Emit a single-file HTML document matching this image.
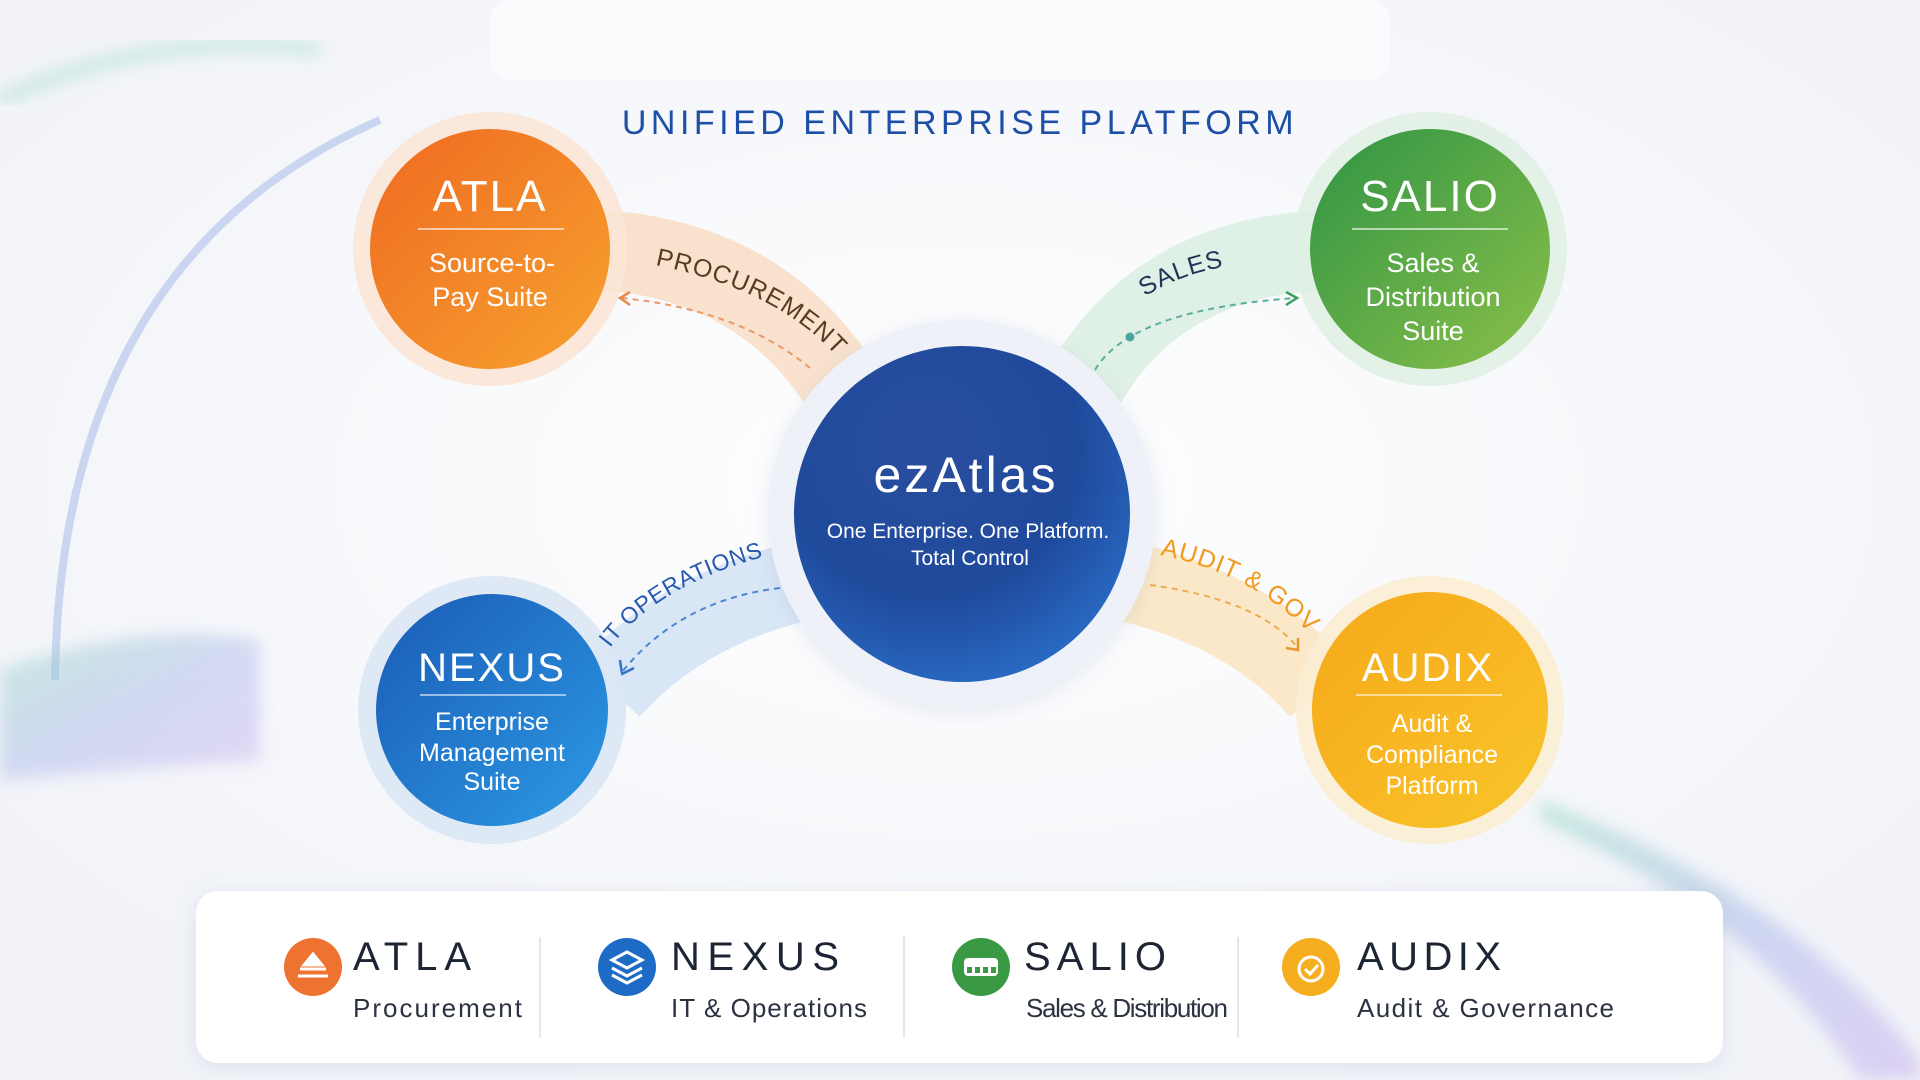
<!DOCTYPE html>
<html><head><meta charset="utf-8"><style>
html,body{margin:0;padding:0}
body{width:1920px;height:1080px;overflow:hidden;background:#f6f7fb;font-family:"Liberation Sans",sans-serif;position:relative}
svg{position:absolute;left:0;top:0}
</style></head><body>
<svg width="1920" height="1080" viewBox="0 0 1920 1080" xmlns="http://www.w3.org/2000/svg">
<defs>
<radialGradient id="bg" cx="50%" cy="45%" r="60%"><stop offset="0" stop-color="#ffffff"/><stop offset="1" stop-color="#f1f3f8"/></radialGradient>
<linearGradient id="gO" x1="0" y1="0" x2="1" y2="1"><stop offset="0" stop-color="#ef6a22"/><stop offset="1" stop-color="#f7a22e"/></linearGradient>
<linearGradient id="gG" x1="0" y1="0" x2="1" y2="1"><stop offset="0" stop-color="#2e9444"/><stop offset="1" stop-color="#8cc04a"/></linearGradient>
<linearGradient id="gB" x1="0" y1="0" x2="1" y2="1"><stop offset="0" stop-color="#1b5bb5"/><stop offset="1" stop-color="#2c9ae6"/></linearGradient>
<linearGradient id="gY" x1="0" y1="0" x2="1" y2="1"><stop offset="0" stop-color="#f6a81a"/><stop offset="1" stop-color="#f9c52a"/></linearGradient>
<radialGradient id="gC" cx="40%" cy="30%" r="75%"><stop offset="0" stop-color="#2a4d9e"/><stop offset="0.6" stop-color="#1f4a9c"/><stop offset="1" stop-color="#2a6cc6"/></radialGradient>
<linearGradient id="sw" x1="0" y1="0" x2="1" y2="1"><stop offset="0" stop-color="#8fd8c0"/><stop offset="0.5" stop-color="#a9b8ea"/><stop offset="1" stop-color="#c8b0f0"/></linearGradient>
<filter id="bl"><feGaussianBlur stdDeviation="8"/></filter>
<filter id="sh"><feDropShadow dx="0" dy="4" stdDeviation="10" flood-color="#8090b0" flood-opacity="0.18"/></filter>
<path id="pP" d="M655,265 Q780,290 840,360"/>
<path id="pS" d="M1140,300 Q1190,265 1270,262"/>
<path id="pI" d="M610,648 Q660,580 790,550"/>
<path id="pA" d="M1160,555 Q1260,575 1320,645"/>
</defs>
<rect width="1920" height="1080" fill="url(#bg)"/>
<rect x="490" y="0" width="900" height="80" rx="20" fill="#fafbfd"/>
<path d="M0,100 Q150,30 320,50" stroke="#9edcc4" stroke-width="10" fill="none" opacity="0.6" filter="url(#bl)"/>
<path d="M380,120 Q60,260 55,680" stroke="#b8c8ec" stroke-width="8" fill="none" opacity="0.7"/>
<path d="M0,670 Q140,620 260,640 L260,760 Q120,770 0,780 Z" fill="url(#sw)" opacity="0.45" filter="url(#bl)"/>
<path d="M1540,800 Q1800,900 1920,1060 L1920,1080 L1860,1080 Q1760,920 1540,820 Z" fill="url(#sw)" opacity="0.5" filter="url(#bl)"/>
<text x="960" y="134" text-anchor="middle" font-size="34" fill="#1e4fa6" letter-spacing="4.5">UNIFIED ENTERPRISE PLATFORM</text>
<path d="M600,250 Q760,260 840,385" stroke="#f8d9bd" stroke-width="80" fill="none" opacity="0.75"/>
<path d="M1330,250 Q1160,255 1085,385" stroke="#d8eee0" stroke-width="80" fill="none" opacity="0.8"/>
<path d="M610,690 Q690,600 830,575" stroke="#d2e2f5" stroke-width="80" fill="none" opacity="0.85"/>
<path d="M1320,690 Q1240,600 1095,575" stroke="#fae3bc" stroke-width="80" fill="none" opacity="0.8"/>
<path d="M810,368 Q740,310 622,298" stroke="#e99a66" stroke-width="2" stroke-dasharray="6 5" fill="none"/>
<path d="M630,292 L620,298 L630,305" stroke="#e98a4a" stroke-width="2.5" fill="none"/>
<path d="M1095,370 Q1130,310 1295,298" stroke="#5aae9e" stroke-width="2" stroke-dasharray="6 5" fill="none"/>
<circle cx="1130" cy="337" r="4.5" fill="#4aa6a0"/>
<path d="M1286,292 L1297,298 L1286,305" stroke="#3aa060" stroke-width="2.5" fill="none"/>
<path d="M780,588 Q680,600 622,672" stroke="#4b86d0" stroke-width="2" stroke-dasharray="6 5" fill="none"/>
<path d="M620,660 L622,674 L634,668" stroke="#2e74cc" stroke-width="2.5" fill="none"/>
<path d="M1150,585 Q1260,600 1298,648" stroke="#eeab55" stroke-width="2" stroke-dasharray="6 5" fill="none"/>
<path d="M1286,648 L1298,650 L1298,638" stroke="#e8962e" stroke-width="2.5" fill="none"/>
<circle cx="490" cy="249" r="137" fill="#fbe6d6" opacity="0.9"/>
<circle cx="1430" cy="249" r="137" fill="#e1f0e4" opacity="0.9"/>
<circle cx="492" cy="710" r="134" fill="#dbe7f5" opacity="0.9"/>
<circle cx="1430" cy="710" r="134" fill="#fbedd3" opacity="0.9"/>
<circle cx="962" cy="514" r="194" fill="#eef1f7" filter="url(#sh)"/>
<text font-size="25" fill="#5a3a22" letter-spacing="1"><textPath href="#pP" startOffset="0">PROCUREMENT</textPath></text>
<text font-size="25" fill="#1f3556" letter-spacing="1"><textPath href="#pS" startOffset="6">SALES</textPath></text>
<text font-size="23" fill="#2659b0" letter-spacing="0.5"><textPath href="#pI" startOffset="0">IT OPERATIONS</textPath></text>
<text font-size="25" fill="#f0991c" letter-spacing="1"><textPath href="#pA" startOffset="0">AUDIT &amp; GOV</textPath></text>
<circle cx="490" cy="249" r="120" fill="url(#gO)"/>
<circle cx="1430" cy="249" r="120" fill="url(#gG)"/>
<circle cx="492" cy="710" r="116" fill="url(#gB)"/>
<circle cx="1430" cy="710" r="118" fill="url(#gY)"/>
<circle cx="962" cy="514" r="168" fill="url(#gC)"/>
<g fill="#fff" text-anchor="middle">
<text x="490" y="211" font-size="44" letter-spacing="2">ATLA</text>
<rect x="418" y="228" width="146" height="2" fill="#fff" opacity="0.6"/>
<text x="492" y="272" font-size="27">Source-to-</text>
<text x="490" y="306" font-size="27">Pay Suite</text>
<text x="1430" y="211" font-size="44" letter-spacing="2">SALIO</text>
<rect x="1352" y="228" width="156" height="2" fill="#fff" opacity="0.6"/>
<text x="1433" y="272" font-size="27">Sales &amp;</text>
<text x="1433" y="306" font-size="27">Distribution</text>
<text x="1433" y="340" font-size="27">Suite</text>
<text x="492" y="681" font-size="40" letter-spacing="2">NEXUS</text>
<rect x="420" y="694" width="146" height="2" fill="#fff" opacity="0.55"/>
<text x="492" y="730" font-size="25">Enterprise</text>
<text x="492" y="761" font-size="25">Management</text>
<text x="492" y="790" font-size="25">Suite</text>
<text x="1428" y="681" font-size="40" letter-spacing="2">AUDIX</text>
<rect x="1356" y="694" width="146" height="2" fill="#fff" opacity="0.55"/>
<text x="1432" y="732" font-size="25">Audit &amp;</text>
<text x="1432" y="763" font-size="25">Compliance</text>
<text x="1432" y="794" font-size="25">Platform</text>
<text x="966" y="492" font-size="50" letter-spacing="3">ezAtlas</text>
<text x="968" y="538" font-size="21">One Enterprise. One Platform.</text>
<text x="970" y="565" font-size="21">Total Control</text>
</g>
<rect x="196" y="891" width="1527" height="172" rx="22" fill="#ffffff" filter="url(#sh)"/>
<g stroke="#e4e6ec" stroke-width="2"><line x1="540" y1="937" x2="540" y2="1038"/><line x1="904" y1="937" x2="904" y2="1038"/><line x1="1238" y1="937" x2="1238" y2="1038"/></g>
<circle cx="313" cy="967" r="29" fill="#ee7230"/>
<path d="M298,976 h30 M300,969 h26 M313,954 l9,11 h-18 z" stroke="#fff" stroke-width="3" fill="#fff"/>
<circle cx="627" cy="967" r="29" fill="#1e6bc6"/>
<path d="M612,960 l15,-8 l15,8 l-15,8 z M612,968 l15,8 l15,-8 M612,975 l15,8 l15,-8" stroke="#fff" stroke-width="3" fill="none"/>
<circle cx="981" cy="967" r="29" fill="#3a9a44"/>
<rect x="964" y="958" width="34" height="18" rx="4" fill="#fff"/>
<g fill="#3a9a44"><rect x="967" y="967" width="5" height="6"/><rect x="975" y="967" width="5" height="6"/><rect x="983" y="967" width="5" height="6"/><rect x="991" y="967" width="5" height="6"/></g>
<circle cx="1311" cy="967" r="29" fill="#f6ad1e"/>
<circle cx="1311" cy="969" r="12" fill="none" stroke="#fff" stroke-width="3"/>
<path d="M1305,969 l5,5 l8,-9" stroke="#fff" stroke-width="3" fill="none"/>
<g fill="#1d2433" font-size="40">
<text x="353" y="970" textLength="118">ATLA</text>
<text x="671" y="970" textLength="168">NEXUS</text>
<text x="1024" y="970" textLength="142">SALIO</text>
<text x="1357" y="970" textLength="144">AUDIX</text>
</g>
<g fill="#2c3242" font-size="26">
<text x="353" y="1017" textLength="169">Procurement</text>
<text x="671" y="1017" textLength="196">IT &amp; Operations</text>
<text x="1026" y="1017" textLength="202">Sales &amp; Distribution</text>
<text x="1357" y="1017" textLength="257">Audit &amp; Governance</text>
</g>
</svg>
</body></html>
